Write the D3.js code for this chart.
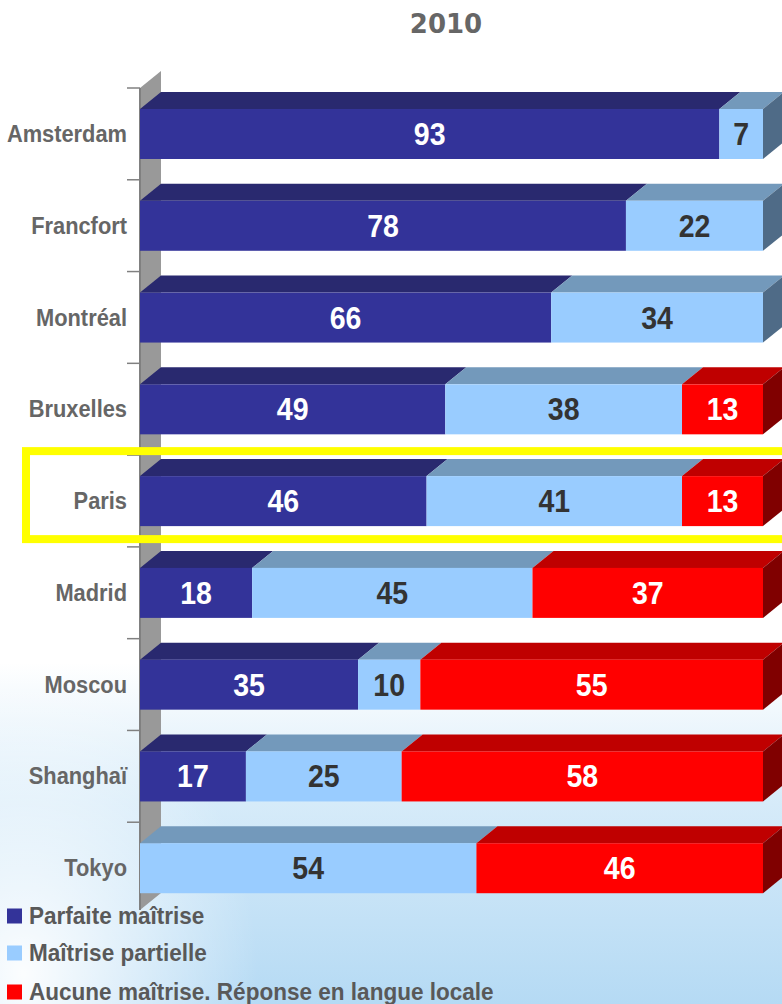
<!DOCTYPE html>
<html>
<head>
<meta charset="utf-8">
<script src="https://cdn.jsdelivr.net/npm/d3@7"></script>
<style>
  html, body { margin: 0; padding: 0; background: #fff; }
  svg { display: block; }
</style>
</head>
<body>
<svg id="chart" width="782" height="1004"></svg>
<script>
// chart data
const cities = ["Amsterdam", "Francfort", "Montréal", "Bruxelles", "Paris", "Madrid", "Moscou", "Shanghaï", "Tokyo"]
const parfaite = [93, 78, 66, 49, 46, 18, 35, 17, 0]
const partielle = [7, 22, 34, 38, 41, 45, 10, 25, 54]
const aucune = [0, 0, 0, 13, 13, 37, 55, 58, 46]
const seriesNames = ["Parfaite maîtrise", "Maîtrise partielle", "Aucune maîtrise. Réponse en langue locale"]
const title = "2010"
const highlighted = "Paris"

// colours for front, top and side faces of each series
const faces = [
    { front: "#333399", top: "#29296f", side: "#1f1f55", text: "#ffffff" },
    { front: "#99ccff", top: "#7399bb", side: "#4f6b87", text: "#333333" },
    { front: "#ff0000", top: "#bf0000", side: "#800000", text: "#ffffff" }
]

// 3d depth offsets
const depthX = 21
const depthY = -17
const barHeight = 50

const svg = d3.select("#chart")
const width = 782, height = 1004

// faint sky background at the bottom
const defs = svg.append("defs")
const grad = defs.append("linearGradient").attr("id", "sky").attr("x1", 0).attr("y1", 0).attr("x2", 0).attr("y2", 1)
grad.append("stop").attr("offset", "0%").attr("stop-color", "#ffffff")
grad.append("stop").attr("offset", "66%").attr("stop-color", "#ffffff")
grad.append("stop").attr("offset", "80%").attr("stop-color", "#d6ebf9")
grad.append("stop").attr("offset", "100%").attr("stop-color", "#b5daf4")
const glow = defs.append("radialGradient").attr("id", "glow").attr("cx", 0.03).attr("cy", 0.97).attr("r", 0.3)
glow.append("stop").attr("offset", "0%").attr("stop-color", "#ffffff").attr("stop-opacity", 0.95)
glow.append("stop").attr("offset", "100%").attr("stop-color", "#ffffff").attr("stop-opacity", 0)
svg.append("rect").attr("width", width).attr("height", height).attr("fill", "url(#sky)")
svg.append("rect").attr("width", width).attr("height", height).attr("fill", "url(#glow)")

// scales
const x = d3.scaleLinear().domain([0, 100]).range([140, 763])
const y = d3.scaleBand().domain(cities).range([88, 914]).padding(0)

// title
svg.append("text")
    .attr("x", 446).attr("y", 33)
    .attr("text-anchor", "middle")
    .attr("font-family", "DejaVu Sans")
    .attr("font-weight", "bold")
    .attr("font-size", 26)
    .attr("fill", "#666666")
    .text(title)

// left gray wall
const wallTop = y.range()[0], wallBottom = y.range()[1] - 4
svg.append("path")
    .attr("d", `M${x(0)},${wallTop} L${x(0) + depthX},${wallTop + depthY} L${x(0) + depthX},${wallBottom + depthY} L${x(0)},${wallBottom} Z`)
    .attr("fill", "#999999")

// axis line with ticks at band edges
const axisG = svg.append("g")
axisG.append("line")
    .attr("x1", x(0)).attr("x2", x(0))
    .attr("y1", wallTop).attr("y2", wallBottom)
    .attr("stroke", "#808080").attr("stroke-width", 2)
const edges = cities.map(c => y(c))
edges.forEach(e => {
    axisG.append("line")
        .attr("x1", 127).attr("x2", x(0))
        .attr("y1", e).attr("y2", e)
        .attr("stroke", "#808080").attr("stroke-width", 1.5)
})

// stacked rows
const stackData = cities.map((c, i) => {
    const vals = [parfaite[i], partielle[i], aucune[i]]
    let acc = 0
    return vals.map((v, k) => {
        const seg = { city: c, k: k, v: v, x0: acc, x1: acc + v }
        acc += v
        return seg
    }).filter(s => s.v > 0)
})

stackData.forEach(row => {
    const c = row[0].city
    const yf = y(c) + 21 // top edge of the front face
    const g = svg.append("g")

    // top faces
    g.selectAll("path.top").data(row).join("path")
        .attr("class", "top")
        .attr("d", s => `M${x(s.x0)},${yf} L${x(s.x0) + depthX},${yf + depthY} L${x(s.x1) + depthX},${yf + depthY} L${x(s.x1)},${yf} Z`)
        .attr("fill", s => faces[s.k].top)

    // front faces
    g.selectAll("rect.front").data(row).join("rect")
        .attr("class", "front")
        .attr("x", s => x(s.x0))
        .attr("y", yf)
        .attr("width", s => x(s.x1) - x(s.x0))
        .attr("height", barHeight)
        .attr("fill", s => faces[s.k].front)

    // side face of the last segment
    const last = row[row.length - 1]
    g.append("path")
        .attr("d", `M${x(last.x1)},${yf} L${x(last.x1) + depthX},${yf + depthY} L${x(last.x1) + depthX},${yf + depthY + barHeight} L${x(last.x1)},${yf + barHeight} Z`)
        .attr("fill", faces[last.k].side)

    // value labels
    g.selectAll("text.val").data(row).join("text")
        .attr("class", "val")
        .attr("transform", s => `translate(${(x(s.x0) + x(s.x1)) / 2},${yf + barHeight / 2 + 11}) scale(0.92,1)`)
        .attr("text-anchor", "middle")
        .attr("font-family", "Liberation Sans, Arial, sans-serif")
        .attr("font-weight", "bold")
        .attr("font-size", 31)
        .attr("fill", s => faces[s.k].text)
        .text(s => s.v)

    // category label
    svg.append("text")
        .attr("transform", `translate(127,${yf + barHeight / 2 + 8}) scale(0.91,1)`)
        .attr("text-anchor", "end")
        .attr("font-family", "Liberation Sans, Arial, sans-serif")
        .attr("font-weight", "bold")
        .attr("font-size", 24)
        .attr("fill", "#666666")
        .text(c)
})

// highlight frame round Paris
svg.append("rect")
    .attr("x", 26)
    .attr("y", y(highlighted) - 4)
    .attr("width", 800)
    .attr("height", 88)
    .attr("fill", "none")
    .attr("stroke", "#ffff00")
    .attr("stroke-width", 8)

// legend
const legendY = [916, 953, 992]
seriesNames.forEach((name, k) => {
    svg.append("rect")
        .attr("x", 7).attr("y", legendY[k] - 7.5)
        .attr("width", 15).attr("height", 15)
        .attr("fill", faces[k].front)
    svg.append("text")
        .attr("transform", `translate(29,${legendY[k] + 8}) scale(0.98,1)`)
        .attr("font-family", "Liberation Sans, Arial, sans-serif")
        .attr("font-weight", "bold")
        .attr("font-size", 23)
        .attr("fill", "#595959")
        .text(name)
})
</script>
</body>
</html>
